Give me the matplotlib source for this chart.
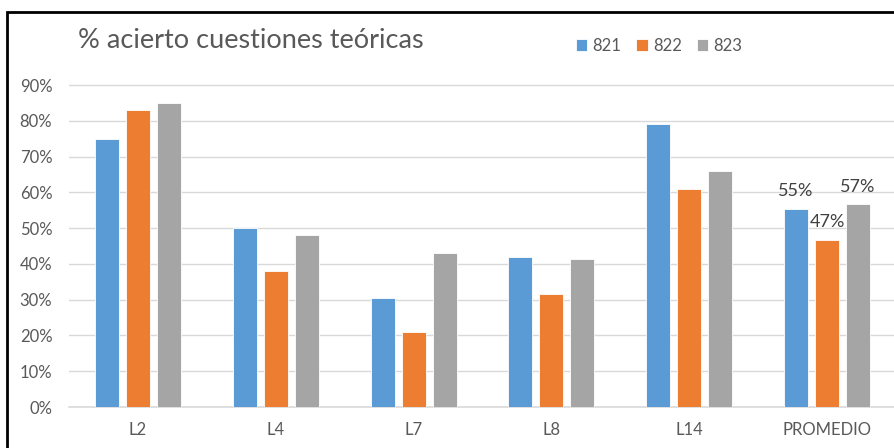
import numpy as np
import matplotlib
matplotlib.use("Agg")
from matplotlib import pyplot as plt
from matplotlib.patches import Rectangle

# data
categories = ["L2", "L4", "L7", "L8", "L14", "PROMEDIO"]
series_names = ["821", "822", "823"]
s821 = [0.75, 0.50, 0.305, 0.42, 0.79, 0.553]
s822 = [0.83, 0.38, 0.21, 0.315, 0.608, 0.468]
s823 = [0.85, 0.48, 0.43, 0.415, 0.66, 0.566]
colors = ["#5B9BD5", "#ED7D31", "#A5A5A5"]
title = "% acierto cuestiones teóricas"

plt.rcParams['font.family'] = ['Lato', 'DejaVu Sans']
text_color = "#595959"
grid_color = "#D9D9D9"

W, H = 894, 448
fig = plt.figure(figsize=(W / 100, H / 100), dpi=100)

y_top = 0.905
px_per_unit = (407 - 85) / 0.9
top_px = 407 - y_top * px_per_unit
ax = fig.add_axes([69 / W, 1 - 407 / H, (896 - 69) / W, (407 - top_px) / H])

x = np.arange(len(categories))
bar_w = 0.175
step = 0.225
all_series = [s821, s822, s823]
bars = []
for i, (vals, name, col) in enumerate(zip(all_series, series_names, colors)):
    b = ax.bar(x + (i - 1) * step, vals, bar_w, color=col, label=name,
               edgecolor="white", linewidth=0.6, zorder=3)
    bars.append(b)

# data labels only on the average group
last = len(categories) - 1
for b in bars:
    r = b[last]
    ax.annotate("%d%%" % round(r.get_height() * 100),
                (r.get_x() + r.get_width() / 2, r.get_height()),
                xytext=(0, 7), textcoords="offset points",
                ha="center", va="bottom", fontsize=13, color="#404040")

ax.set_xlim(-0.5, len(categories) - 0.5)
ax.set_ylim(0, y_top)
ax.set_yticks(np.arange(0, 0.91, 0.1))
ax.set_yticklabels(["%d%%" % v for v in range(0, 91, 10)])
ax.set_xticks(x)
ax.set_xticklabels(categories)
ax.tick_params(axis="both", length=0, labelsize=12, labelcolor=text_color)
ax.tick_params(axis="y", pad=12)
ax.tick_params(axis="x", pad=11)
ax.grid(axis="y", color=grid_color, linewidth=1, zorder=0)
for s in ["top", "right", "left"]:
    ax.spines[s].set_visible(False)
ax.spines["bottom"].set_color(grid_color)
ax.spines["bottom"].set_linewidth(1.2)

fig.text(78 / W, 1 - 48 / H, title, fontsize=19.5, color=text_color,
         ha="left", va="baseline")

fig.legend(loc="center", bbox_to_anchor=(659 / W, 1 - 46 / H), ncol=3,
           frameon=False, fontsize=12, labelcolor=text_color,
           handlelength=0.7, handleheight=0.7, handletextpad=0.3,
           columnspacing=0.9)

# outer chart frame
fig.add_artist(Rectangle((7 / W, -0.1), 1.2, (1 - 12 / H) + 0.1,
                         transform=fig.transFigure, fill=False,
                         edgecolor="black", linewidth=2, clip_on=False))

fig.savefig("out.png", dpi=100)
